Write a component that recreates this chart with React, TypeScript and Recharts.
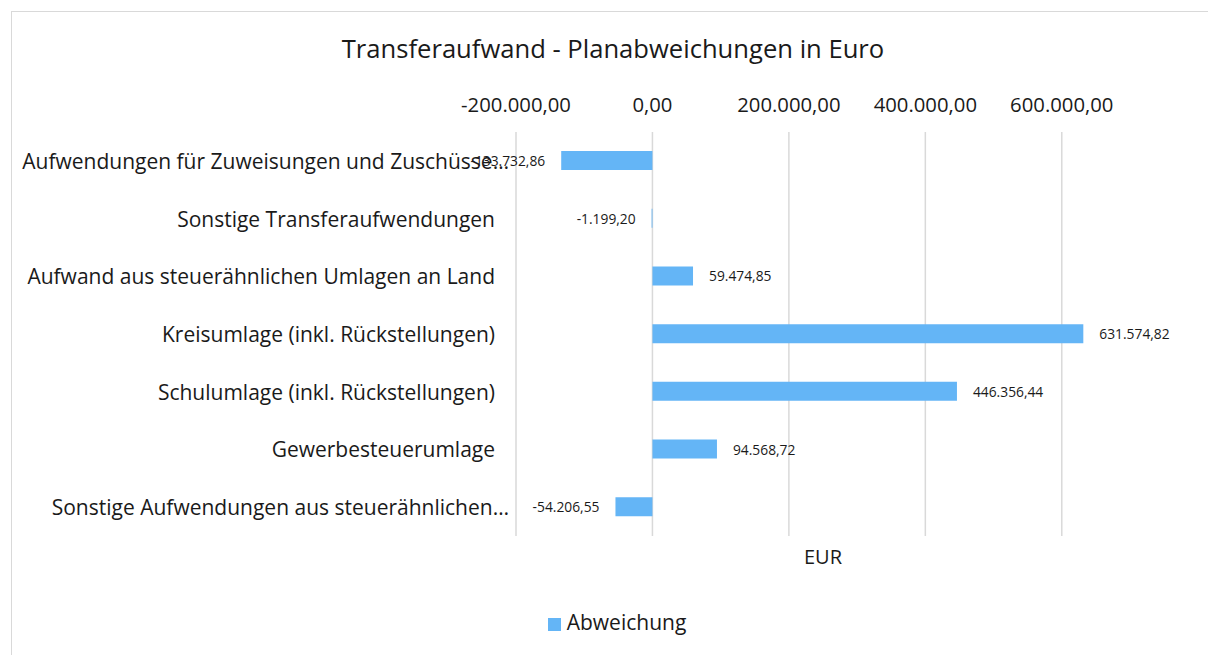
import React from 'react';
import { BarChart, Bar, XAxis, YAxis, CartesianGrid, Legend, LabelList } from 'recharts';

// Transferaufwand – Abweichungen Plan/Ist je Position
const categories = [
  'Aufwendungen für Zuweisungen und Zuschüsse…',
  'Sonstige Transferaufwendungen',
  'Aufwand aus steuerähnlichen Umlagen an Land',
  'Kreisumlage (inkl. Rückstellungen)',
  'Schulumlage (inkl. Rückstellungen)',
  'Gewerbesteuerumlage',
  'Sonstige Aufwendungen aus steuerähnlichen…',
];
const abweichung = [-133732.86, -1199.2, 59474.85, 631574.82, 446356.44, 94568.72, -54206.55];
const xTicks = [-200000, 0, 200000, 400000, 600000];

const data = categories.map((name, i) => ({ name, value: abweichung[i] }));

const FONT = '"Open Sans", sans-serif';
const BAR = '#64B5F6';
const TEXT = '#1a1a1a';

// 1234567.5 -> "1.234.567,50"
function fmt(v: number) {
  const neg = v < 0;
  const [int, dec] = Math.abs(v).toFixed(2).split('.');
  const grouped = int.replace(/\B(?=(\d{3})+(?!\d))/g, '.');
  return (neg ? '-' : '') + grouped + ',' + dec;
}

// category label; truncated names let the ellipsis hang past the text box like Excel does
function CategoryTick(props: any) {
  const { x, y, payload } = props;
  const label: string = payload.value;
  const hang = label.endsWith('…') ? 14 : 0;
  return (
    <text
      x={x + hang}
      y={y}
      textAnchor="end"
      dominantBaseline="central"
      fontSize={21}
      fontFamily={FONT}
      fill={TEXT}
    >
      {label}
    </text>
  );
}

function ValueLabel(props: any) {
  const { x, y, width, height, value } = props;
  const left = Math.min(x, x + width);
  const right = Math.max(x, x + width);
  const cy = y + height / 2;
  const neg = value < 0;
  return (
    <text
      x={neg ? left - 16 : right + 16}
      y={cy}
      textAnchor={neg ? 'end' : 'start'}
      dominantBaseline="central"
      fontSize={13.8}
      fontFamily={FONT}
      fill={TEXT}
    >
      {fmt(value)}
    </text>
  );
}

export default function App() {
  return (
    <div style={{ position: 'fixed', left: 0, top: 0, width: 1208, height: 655, overflow: 'hidden', background: '#fff' }}>
      <div
        style={{
          position: 'absolute',
          left: 11,
          top: 11,
          width: 1210,
          height: 700,
          border: '1px solid #d9d9d9',
        }}
      />
      <div
        style={{
          position: 'absolute',
          left: 0,
          width: 1226,
          top: 31,
          textAlign: 'center',
          fontFamily: FONT,
          fontSize: 25.6,
          color: TEXT,
        }}
      >
        Transferaufwand - Planabweichungen in Euro
      </div>
      <div
        style={{
          position: 'absolute',
          left: 723,
          width: 200,
          top: 543,
          textAlign: 'center',
          fontFamily: FONT,
          fontSize: 20,
          color: TEXT,
        }}
      >
        EUR
      </div>
      <div style={{ position: 'absolute', left: 0, top: 0 }}>
        <BarChart
          width={1208}
          height={655}
          data={data}
          layout="vertical"
          margin={{ top: 92, right: 78, bottom: 91, left: 0 }}
        >
          {/* vertical gridlines only at the labelled ticks */}
          <CartesianGrid horizontal={false} syncWithTicks stroke="#d9d9d9" strokeWidth={1.5} />
          <XAxis
            type="number"
            orientation="top"
            domain={[-200000, 700000]}
            ticks={xTicks}
            tickFormatter={fmt}
            axisLine={false}
            tickLine={false}
            tickSize={0}
            tickMargin={20}
            height={40}
            tick={{ fontSize: 20.3, fontFamily: FONT, fill: TEXT }}
          />
          <YAxis
            type="category"
            dataKey="name"
            width={516}
            axisLine={false}
            tickLine={false}
            tickSize={0}
            tickMargin={21}
            interval={0}
            tick={<CategoryTick />}
          />
          <Legend
            verticalAlign="bottom"
            iconType="square"
            iconSize={13}
            wrapperStyle={{ top: 608, left: 0, width: 1244, fontFamily: FONT, fontSize: 21 }}
            formatter={(v: string) => <span style={{ color: TEXT, marginLeft: 2 }}>{v}</span>}
          />
          <Bar dataKey="value" name="Abweichung" fill={BAR} barSize={19} isAnimationActive={false}>
            <LabelList dataKey="value" content={ValueLabel} />
          </Bar>
        </BarChart>
      </div>
    </div>
  );
}
